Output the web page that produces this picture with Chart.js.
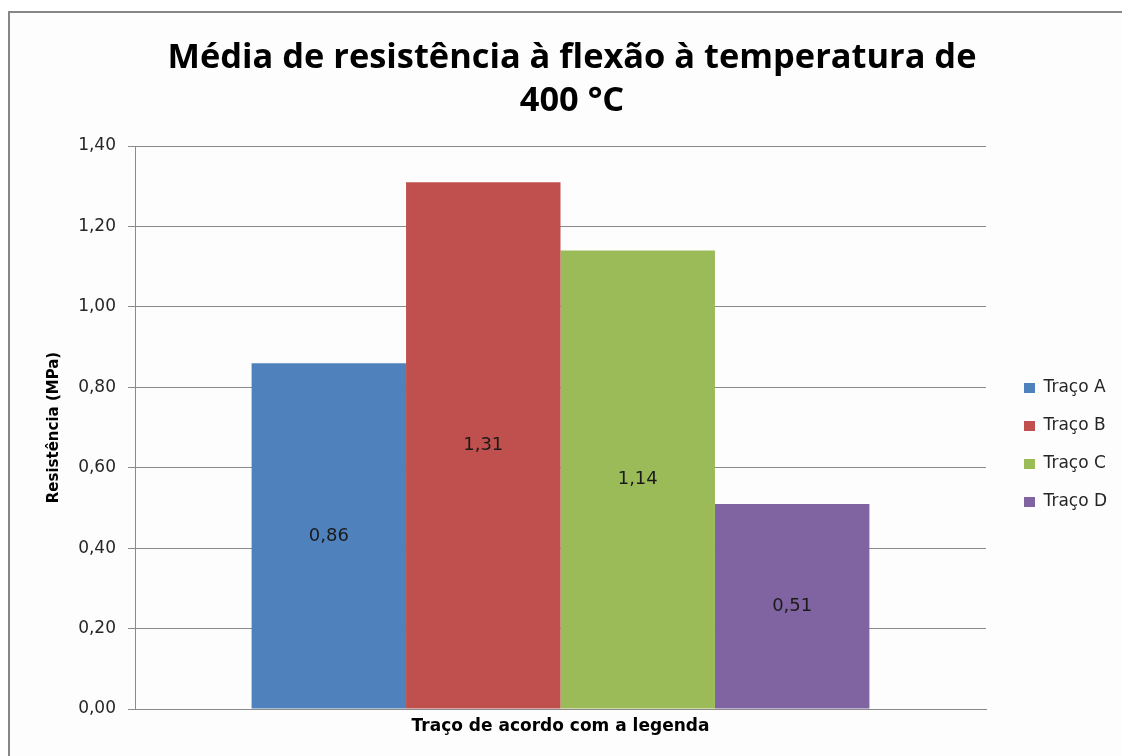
<!DOCTYPE html>
<html lang="pt">
<head>
<meta charset="utf-8">
<title>Resistência à flexão - 400 °C</title>
<script src="https://cdn.jsdelivr.net/npm/chart.js@4.4.1/dist/chart.umd.min.js"></script>
<style>
    html, body {
        margin: 0;
        padding: 0;
        background: #ffffff;
        overflow: hidden;
    }

    #moldura {
        position: absolute;
        left: 8px;
        top: 11px;
        width: 1200px;
        height: 800px;
        border: 2px solid #878787;
        background: #fdfdfd;
    }

    #grafico {
        position: absolute;
        left: 0;
        top: 0;
    }
</style>
</head>
<body>
<div id="moldura"></div>
<canvas id="grafico" width="1122" height="756"></canvas>

<script>
//! Os dados.

const tracos = ['Traço A', 'Traço B', 'Traço C', 'Traço D'];
const mediaResistencia = [0.86, 1.31, 1.14, 0.51];
const coresTracos = ['#4f81bd', '#c0504d', '#9bbb59', '#8064a2'];

const tituloGrafico = ['Média de resistência à flexão à temperatura de', '400 °C'];
const tituloEixoY = 'Resistência (MPa)';
const tituloEixoX = 'Traço de acordo com a legenda';

const eixoYMin = 0;
const eixoYMax = 1.4;
const eixoYPasso = 0.2;

//! --------------------------------------------------

const fonteTitulo = "'Open Sans', 'DejaVu Sans', sans-serif";
const fonte = "'DejaVu Sans', sans-serif";
const corGrade = '#8a8a8a';

// 0.86 -> "0,86"
const formatoVirgula = (valor) => Number(valor).toFixed(2).replace('.', ',');

//? Rótulos de valor no meio de cada barra.

const rotulosNasBarras = {
    id: 'rotulosNasBarras',
    afterDatasetsDraw(chart) {
        const ctx = chart.ctx;
        ctx.save();
        ctx.font = '18px ' + fonte;
        ctx.fillStyle = '#1a1a1a';
        ctx.textAlign = 'center';
        ctx.textBaseline = 'middle';

        chart.data.datasets.forEach((ds, i) => {
            const meta = chart.getDatasetMeta(i);
            meta.data.forEach((barra, j) => {
                const meio = (barra.y + barra.base) / 2;
                ctx.fillText(formatoVirgula(ds.data[j]), barra.x, meio);
            });
        });

        ctx.restore();
    }
};

//? Legenda: largura fixa e deslocada para junto da borda direita.

const posicaoLegenda = {
    id: 'posicaoLegenda',
    afterInit(chart) {
        const fitOriginal = chart.legend.fit;
        chart.legend.fit = function () {
            fitOriginal.bind(chart.legend)();
            this.width = 119;
        };
    },
    afterLayout(chart) {
        const legenda = chart.legend;
        legenda.left += 17;
        legenda.right += 17;
        legenda.top += 67;
        legenda.bottom += 67;
    }
};

//? Construção do gráfico.

const datasets = tracos.map((nome, i) => ({
    label: nome,
    data: [mediaResistencia[i]],
    backgroundColor: coresTracos[i],
    borderWidth: 0,
    barPercentage: 1,
    categoryPercentage: 0.726,
}));

const ctxGrafico = document.getElementById('grafico').getContext('2d');

new Chart(ctxGrafico, {
    type: 'bar',
    data: {
        labels: [''],
        datasets,
    },
    options: {
        responsive: false,
        animation: false,
        devicePixelRatio: 1,
        layout: {
            padding: { left: 39, right: 17, top: 0, bottom: 0 },
        },
        plugins: {
            title: {
                display: true,
                text: tituloGrafico,
                color: '#000000',
                font: { family: fonteTitulo, size: 34.4, weight: 'bold', lineHeight: 1.24 },
                padding: { top: 37, bottom: 23.7 },
            },
            legend: {
                display: true,
                position: 'right',
                labels: {
                    color: '#262626',
                    font: { family: fonte, size: 17 },
                    boxWidth: 11,
                    boxHeight: 10,
                    padding: 21,
                },
            },
            tooltip: { enabled: false },
        },
        scales: {
            x: {
                grid: { display: false },
                border: { display: true, color: corGrade, width: 1 },
                ticks: { display: false },
                title: {
                    display: true,
                    text: tituloEixoX,
                    color: '#000000',
                    font: { family: fonte, size: 17, weight: 'bold' },
                    padding: { top: 0, bottom: 19 },
                },
                afterFit(scale) {
                    scale.height = 47;
                },
            },
            y: {
                min: eixoYMin,
                max: eixoYMax,
                ticks: {
                    stepSize: eixoYPasso,
                    color: '#262626',
                    font: { family: fonte, size: 17 },
                    padding: 12,
                    callback: (valor) => formatoVirgula(valor),
                },
                grid: {
                    color: corGrade,
                    tickColor: corGrade,
                    tickLength: 7,
                    lineWidth: 1,
                },
                border: { display: true, color: corGrade, width: 1 },
                title: {
                    display: true,
                    text: tituloEixoY,
                    color: '#000000',
                    font: { family: fonte, size: 15, weight: 'bold' },
                    padding: { top: 6, bottom: 0 },
                },
                afterFit(scale) {
                    scale.width = 96;
                },
            },
        },
    },
    plugins: [rotulosNasBarras, posicaoLegenda],
});
</script>
</body>
</html>
